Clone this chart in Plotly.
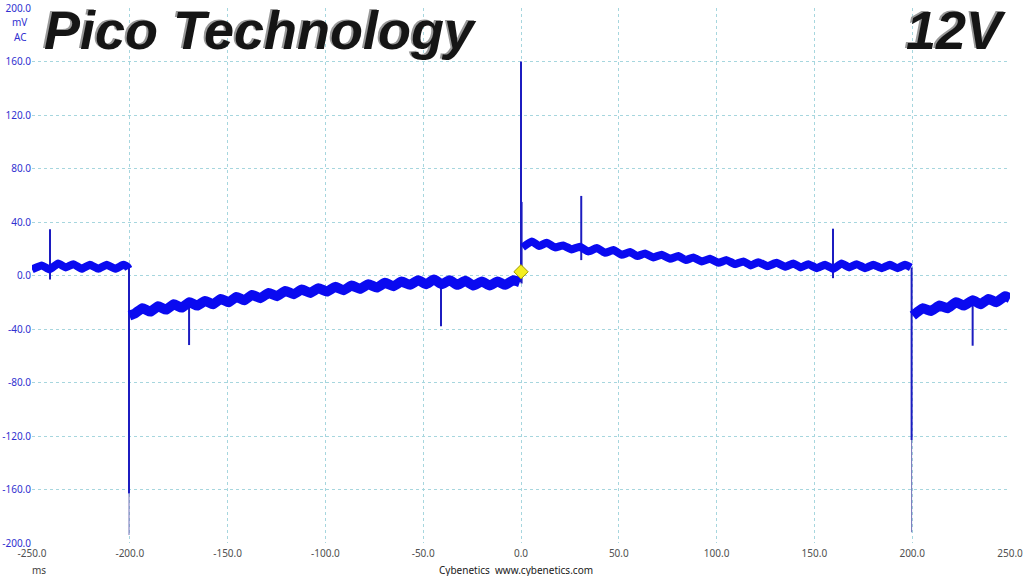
import plotly.graph_objects as go

# ---- Data (time in ms, voltage in mV) ----
# ripple band centre-line vertices, one list per segment
seg_a_t = [-250, -245, -241, -236.6, -232.7, -228.9, -224.6, -220.4, -216.1, -211.8, -207.5, -203.3, -201.2, -200.6]
seg_a_v = [4.5, 7.5, 4.5, 9, 6, 8.5, 5, 8, 5, 8, 5, 8, 6.5, 5]

seg_b_t = [-200.2, -197.5, -193.5, -189.5, -185.5, -181.5, -177.5, -173.5, -169.5, -165.5, -161.5,
           -157.5, -153.5, -149.5, -145.5, -141.5, -137.5, -133.25, -129, -124.75, -120.5, -116.25,
           -112, -107.75, -103.5, -99.25, -95, -90.75, -86.5, -82.25, -78, -73.75, -69.5, -65.25,
           -61, -56.75, -52.5, -48.5, -44.5, -40.5, -36.5, -32.5, -28.5, -24.25, -20, -16, -12, -8,
           -4, -0.6]
seg_b_v = [-30, -28.5, -24.5, -27, -23, -25.5, -21.5, -24, -20, -22.5, -19,
           -21.5, -17.5, -20, -16, -18.5, -14.5, -17, -13, -15.5, -11.5, -14,
           -10.5, -13, -9.5, -12, -8.5, -11, -7.5, -10, -6.5, -9, -5.5, -8,
           -4.5, -7, -3.5, -6.5, -3, -6.5, -3.5, -7, -4, -7.5, -4.5, -7.5, -4.5, -7,
           -3.5, -5]

seg_c_t = [0.8, 5.5, 9.3, 13.1, 17.4, 21.6, 25.9, 30.1, 34.4, 38.7, 43, 47.2, 51.5, 55.7, 59.5,
           63.4, 67.7, 71.9, 76.2, 80.4, 84.3, 88.1, 92.4, 96.6, 100.9, 105.1, 109.4, 113.7,
           117.5, 121.3, 126, 130.7, 135, 139.2, 143, 146.9, 151.2, 155.4, 159.7, 163.9, 167.8,
           171.6, 175.9, 180.1, 184.4, 188.6, 192.5, 196.3, 199.3]
seg_c_v = [21, 25.5, 22, 24.5, 21, 22.5, 19.5, 21.5, 18, 20.5, 17, 19, 15.5, 17.5, 14.5,
           16.5, 13.5, 15.5, 12.5, 14.5, 11.5, 13.5, 10.5, 12.5, 9.5, 11.5, 8.5, 10.5,
           7.5, 10, 7, 9.5, 6.5, 9, 6, 8.5, 5.5, 8, 5, 9, 6,
           8.5, 5.5, 8, 5.5, 8, 5.5, 8, 6]

seg_d_t = [200.3, 202.5, 205.5, 209.5, 214, 218, 222.5, 226.5, 231, 235, 239, 243, 247.5, 250]
seg_d_v = [-30, -27.5, -24.5, -26.5, -22.5, -24.5, -20, -22.5, -18.5, -21.5, -17.5, -20, -15.5, -17]

# narrow transient spikes: time, start, end
spike_t = [-240.8, -200.4, -169.7, -40.9, 0.0, 0.3, 30.8, 159.5, 199.7, 230.9]
spike_from = [-3, 6, -20, -4, -5, -6, 11.5, -2, 6, -17]
spike_to = [34.5, -163, -52, -38, 160, 55, 59.5, 35, -123, -52.5]
# faint tails of the two deepest spikes
tail_t = [-200.4, 199.7]
tail_from = [-163, -123]
tail_to = [-194, -192]

trigger_t = [0.0]
trigger_v = [2.8]

x_ticks = [-250, -200, -150, -100, -50, 0, 50, 100, 150, 200, 250]
y_ticks = [-200, -160, -120, -80, -40, 0, 40, 80, 120, 160, 200]

# ---- Build figure ----
sx, sy = [], []
for t, a, b in zip(spike_t, spike_from, spike_to):
    sx += [t, t, None]
    sy += [a, b, None]
tx, ty = [], []
for t, a, b in zip(tail_t, tail_from, tail_to):
    tx += [t, t, None]
    ty += [a, b, None]

fig = go.Figure()
fig.add_trace(go.Scatter(x=tx, y=ty, mode="lines", line=dict(color="#7070b8", width=1),
                         hoverinfo="skip", showlegend=False))
fig.add_trace(go.Scatter(x=sx, y=sy, mode="lines", line=dict(color="#1c1cc0", width=2),
                         hoverinfo="skip", showlegend=False))
for tt, vv, w in [(seg_a_t, seg_a_v, 8), (seg_b_t, seg_b_v, 10),
                  (seg_c_t, seg_c_v, 8), (seg_d_t, seg_d_v, 10)]:
    fig.add_trace(go.Scatter(x=tt, y=vv, mode="lines",
                             line=dict(color="#0a0af0", width=w, shape="spline", smoothing=0.4),
                             hoverinfo="skip", showlegend=False))
fig.add_trace(go.Scatter(x=trigger_t, y=trigger_v, mode="markers",
                         marker=dict(symbol="diamond", size=11, color="#f4ee20",
                                     line=dict(color="#a09a00", width=1)),
                         hoverinfo="skip", showlegend=False))

grid_col = "#a6d6de"
fig.update_xaxes(range=[-250, 250], tickvals=x_ticks, ticktext=[f"{v:.1f}" for v in x_ticks],
                 showgrid=True, gridcolor=grid_col, griddash="dot", gridwidth=1,
                 zeroline=False, showline=False, ticks="", automargin=False, ticklabelstandoff=3,
                 tickfont=dict(family="Noto Sans", size=10, color="#505050"))
fig.update_yaxes(range=[-200, 200], tickvals=y_ticks, ticktext=[f"{v:.1f}" for v in y_ticks],
                 showgrid=True, gridcolor=grid_col, griddash="dot", gridwidth=1,
                 zeroline=False, showline=False, ticks="", automargin=False,
                 tickfont=dict(family="Noto Sans", size=10, color="#3030d0"))

ann = []
ann.append(dict(text="mV", xref="paper", yref="paper", x=0, y=1, xanchor="right", yanchor="middle",
                xshift=-3, yshift=-14, showarrow=False,
                font=dict(family="Noto Sans", size=10, color="#3030d0")))
ann.append(dict(text="AC", xref="paper", yref="paper", x=0, y=1, xanchor="right", yanchor="middle",
                xshift=-3, yshift=-29, showarrow=False,
                font=dict(family="Noto Sans", size=10, color="#3030d0")))
ann.append(dict(text="ms", xref="paper", yref="paper", x=0, y=0, xanchor="left", yanchor="middle",
                xshift=-2, yshift=-27, showarrow=False,
                font=dict(family="Noto Sans", size=10, color="#404040")))
ann.append(dict(text="Cybenetics  www.cybenetics.com", xref="paper", yref="paper", x=0.5, y=0,
                xanchor="center", yanchor="middle", yshift=-27, xshift=-5, showarrow=False,
                font=dict(family="Noto Sans", size=10, color="#202020")))
for txt, xp, anchor in [("Pico Technology", 0.010, "left"), ("12V", 0.998, "right")]:
    ann.append(dict(text=txt, xref="paper", yref="paper", x=xp, y=1, xanchor=anchor, yanchor="top",
                    xshift=-2, yshift=11, showarrow=False,
                    font=dict(family="Liberation Sans", size=54, color="#9a9a9a",
                              weight="bold", style="italic")))
    ann.append(dict(text=txt, xref="paper", yref="paper", x=xp, y=1, xanchor=anchor, yanchor="top",
                    xshift=0, yshift=10, showarrow=False,
                    font=dict(family="Liberation Sans", size=54, color="#151515",
                              weight="bold", style="italic")))

fig.update_layout(width=1024, height=576, margin=dict(l=32, r=14, t=8, b=33, autoexpand=False),
                  plot_bgcolor="white", paper_bgcolor="white", annotations=ann)

fig.write_html("out.html", config={"displayModeBar": False, "staticPlot": True},
               post_script="document.body.style.margin='0px';document.body.style.overflow='hidden';")
